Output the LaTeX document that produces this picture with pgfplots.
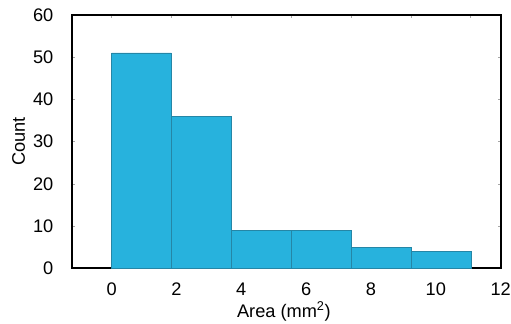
\documentclass[border=0pt]{standalone}
\usepackage{pgfplots}
\pgfplotsset{compat=1.18}
\usepackage{fontspec}
\setmainfont{Liberation Sans}
\definecolor{barfill}{HTML}{27B2DD}
\definecolor{baredge}{HTML}{2586A6}
\begin{document}
\begin{tikzpicture}
\begin{axis}[
  scale only axis, width=429bp, height=253.3bp,
  xmin=-1.2308, xmax=12, ymin=0, ymax=60,
  axis line style={black, line width=2bp},
  tick align=inside, major tick length=3bp,
  tick style={draw=gray!70, line width=0.6bp},
  xtick={0,1.84615,3.69231,5.53846,7.38462,9.23077,11.07692},
  xticklabels={},
  extra x ticks={0,2,4,6,8,10,12},
  extra x tick labels={0,2,4,6,8,10,12},
  extra x tick style={major tick length=0pt},
  ytick={0,10,...,60},
  /pgf/number format/assume math mode=true,
  tick label style={font=\fontsize{18.2bp}{21bp}\selectfont, inner sep=0pt},
  xticklabel style={anchor=base, yshift=-27bp},
  yticklabel style={anchor=east, xshift=-18.2bp},
  xlabel={Area (mm\textsuperscript{2})},
  ylabel={Count},
  label style={font=\fontsize{18.2bp}{21bp}\selectfont},
  xlabel style={at={(axis description cs:0.4945,-0.1923)}, anchor=base},
  ylabel style={at={(axis description cs:-0.1089,0.5)}, anchor=base},
]
\addplot[ybar interval, fill=barfill, draw=baredge, line width=0.5bp] coordinates {
  (0,51) (1.84615,36) (3.69231,9) (5.53846,9) (7.38462,5) (9.23077,4) (11.07692,4)
};
\end{axis}
\pgfresetboundingbox
\path[use as bounding box] (current axis.south west) ++(-71.7bp,-55.7bp) rectangle ++(511bp,324bp);
\end{tikzpicture}
\end{document}
